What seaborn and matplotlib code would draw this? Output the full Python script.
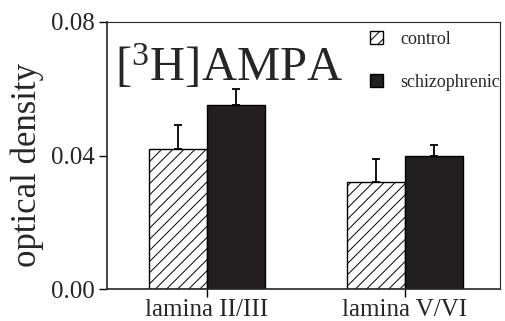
import matplotlib
matplotlib.use("Agg")
import matplotlib.pyplot as plt
import seaborn as sns
import pandas as pd
import numpy as np

categories = ["lamina II/III", "lamina V/VI"]
groups = ["control", "schizophrenic"]
control_mean = [0.042, 0.032]
schizo_mean = [0.055, 0.040]
control_err = [0.007, 0.007]
schizo_err = [0.005, 0.003]
ytick_vals = [0.00, 0.04, 0.08]
ytick_labels = ["0.00", "0.04", "0.08"]

df = pd.DataFrame({
    "lamina": categories * 2,
    "group": [groups[0]] * 2 + [groups[1]] * 2,
    "density": control_mean + schizo_mean,
})
errs = {groups[0]: control_err, groups[1]: schizo_err}

sns.set_style("ticks")
plt.rcParams["font.family"] = ["Liberation Serif", "DejaVu Serif"]
plt.rcParams["mathtext.fontset"] = "custom"
plt.rcParams["mathtext.rm"] = "Liberation Serif"
plt.rcParams["hatch.linewidth"] = 0.7

fig = plt.figure(figsize=(5.05, 3.21), dpi=100)
ax = fig.add_axes([107 / 505, 32 / 321, 393 / 505, 267 / 321])

sns.barplot(data=df, x="lamina", y="density", hue="group", order=categories,
            hue_order=groups, palette={"control": "white", "schizophrenic": "#231f20"},
            width=0.586, edgecolor="black", linewidth=1.0, errorbar=None,
            legend=False, ax=ax, saturation=1)

for cont, g in zip(ax.containers, groups):
    xs, hs = [], []
    for bar in cont:
        if g == "control":
            bar.set_hatch("///")
        bar.set_zorder(2)
        xs.append(bar.get_x() + bar.get_width() / 2)
        hs.append(bar.get_height())
    e = errs[g]
    ax.errorbar(xs, hs, yerr=[np.zeros(len(e)), e], fmt="none", ecolor="black",
                elinewidth=1.3, capsize=3, capthick=1.3, zorder=1)

ax.set_xlim(-0.505, 1.48)
ax.set_ylim(0, 0.08)
ax.set_yticks(ytick_vals)
ax.set_yticklabels(ytick_labels)
ax.tick_params(axis="both", labelsize=18, length=6, width=1, direction="out", color="black")
ax.tick_params(axis="x", pad=1)
ax.tick_params(axis="y", pad=3)
ax.set_xlabel("")
ax.set_ylabel("optical density", fontsize=25)
ax.yaxis.set_label_coords(-0.16, 0.464)

for s in ["left", "bottom"]:
    ax.spines[s].set_linewidth(1.2)
for s in ["top", "right"]:
    ax.spines[s].set_visible(True)
    ax.spines[s].set_linewidth(0.8)

ax.text(0.02, 0.779, "[$\\mathregular{^3}$H]AMPA", transform=ax.transAxes,
        fontsize=35, va="baseline", ha="left")

handles = [ax.containers[0][0], ax.containers[1][0]]
leg = ax.legend(handles, groups, loc="upper left", bbox_to_anchor=(370 / 505, 1 - 31 / 321),
                bbox_transform=fig.transFigure, frameon=False, fontsize=13,
                handlelength=0.72, handleheight=0.72, handletextpad=0.95,
                labelspacing=1.45, borderpad=0, borderaxespad=0)

fig.savefig("out.png", dpi=100)
